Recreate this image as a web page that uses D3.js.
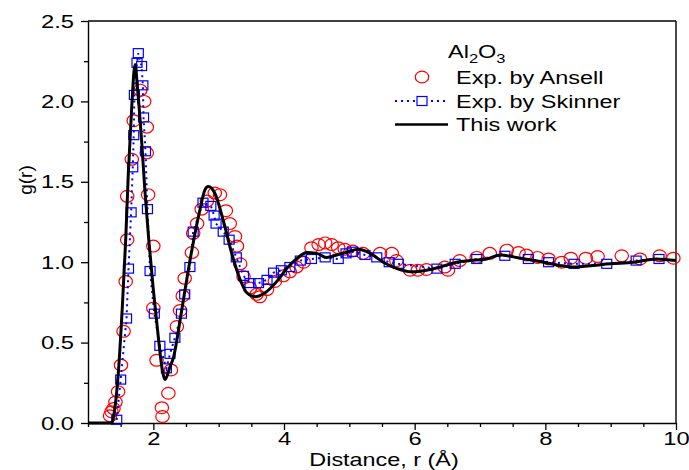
<!DOCTYPE html>
<html>
<head>
<meta charset="utf-8">
<script src="https://cdn.jsdelivr.net/npm/d3@7"></script>
<style>
  body { margin: 0; background: #fff; }
  svg text { font-family: "Liberation Sans", Arial, sans-serif; fill: #000; }
</style>
</head>
<body>
<div id="container"></div>
<script>
// "This work" curve
const workR = [1.0, 1.37, 1.40, 1.464, 1.525, 1.577, 1.617, 1.67, 1.72, 1.76, 1.82, 1.87, 1.93, 2.0, 2.08, 2.13, 2.18, 2.255, 2.31, 2.41, 2.51, 2.61, 2.71, 2.79, 2.84, 2.94, 3.07, 3.2, 3.33, 3.43, 3.56, 3.71, 3.91, 4.04, 4.19, 4.35, 4.5, 4.65, 4.81, 4.98, 5.14, 5.32, 5.52, 5.73, 5.95, 6.18, 6.39, 6.64, 6.85, 7.1, 7.31, 7.61, 7.97, 8.22, 8.43, 8.73, 8.99, 9.35, 9.7, 10.0];
const workG = [0, 0, 0.06, 0.31, 0.72, 1.14, 1.55, 1.97, 2.23, 2.07, 1.76, 1.45, 1.14, 0.83, 0.52, 0.35, 0.27, 0.35, 0.41, 0.64, 0.89, 1.12, 1.32, 1.45, 1.47, 1.43, 1.26, 1.055, 0.89, 0.81, 0.785, 0.81, 0.89, 0.96, 1.02, 1.06, 1.055, 1.03, 1.045, 1.065, 1.08, 1.055, 1.0, 0.96, 0.94, 0.95, 0.97, 1.0, 1.01, 1.02, 1.045, 1.025, 1.0, 0.98, 0.97, 0.98, 0.99, 1.0, 1.02, 1.01];

// Exp. by Ansell (circles)
const ansellR = [1.337, 1.36, 1.39, 1.42, 1.46, 1.505, 1.545, 1.577, 1.6, 1.6, 1.67, 1.7, 1.8, 1.86, 1.9, 1.9, 1.92, 2.0, 2.0, 2.05, 2.13, 2.14, 2.23, 2.27, 2.36, 2.41, 2.45, 2.48, 2.59, 2.61, 2.67, 2.74, 2.82, 2.94, 3.02, 3.11, 3.17, 3.25, 3.28, 3.33, 3.38, 3.48, 3.58, 3.63, 3.74, 3.86, 3.99, 4.09, 4.19, 4.3, 4.42, 4.53, 4.63, 4.73, 4.83, 4.93, 5.05, 5.21, 5.47, 5.65, 5.72, 5.93, 6.05, 6.18, 6.46, 6.51, 6.69, 6.95, 7.15, 7.41, 7.59, 7.71, 7.88, 8.05, 8.25, 8.39, 8.62, 8.8, 9.17, 9.45, 9.75, 9.96];
const ansellG = [0.045, 0.07, 0.09, 0.13, 0.195, 0.36, 0.57, 0.88, 1.14, 1.41, 1.64, 1.88, 2.07, 2.0, 1.84, 1.68, 1.42, 1.1, 0.715, 0.39, 0.095, 0.04, 0.185, 0.33, 0.6, 0.7, 0.79, 0.9, 1.06, 1.18, 1.24, 1.33, 1.38, 1.43, 1.42, 1.32, 1.24, 1.16, 1.1, 0.99, 0.91, 0.84, 0.8, 0.785, 0.83, 0.88, 0.915, 0.94, 0.97, 1.0, 1.09, 1.11, 1.12, 1.11, 1.09, 1.08, 1.07, 1.055, 1.055, 1.055, 1.01, 0.95, 0.95, 0.955, 0.97, 0.95, 1.01, 1.03, 1.055, 1.075, 1.06, 1.045, 1.03, 1.02, 1.0, 1.025, 1.025, 1.035, 1.04, 1.02, 1.04, 1.025];

// Exp. by Skinner (squares + dotted line)
const skinnerR = [1.44, 1.5, 1.59, 1.62, 1.66, 1.685, 1.7, 1.71, 1.75, 1.77, 1.82, 1.84, 1.85, 1.88, 1.91, 1.95, 2.015, 2.1, 2.2, 2.255, 2.33, 2.43, 2.48, 2.56, 2.61, 2.76, 2.88, 2.93, 2.96, 3.07, 3.16, 3.27, 3.38, 3.48, 3.61, 3.74, 3.84, 3.96, 4.09, 4.25, 4.42, 4.63, 4.83, 4.95, 5.05, 5.24, 5.42, 5.61, 5.75, 6.34, 6.62, 6.95, 7.38, 7.74, 8.05, 8.44, 8.94, 9.39, 9.74];
const skinnerG = [0.02, 0.27, 0.65, 0.96, 1.31, 1.59, 1.79, 2.04, 2.24, 2.3, 2.22, 2.1, 1.9, 1.69, 1.33, 0.945, 0.68, 0.48, 0.34, 0.43, 0.53, 0.68, 0.8, 0.97, 1.19, 1.37, 1.35, 1.29, 1.24, 1.19, 1.14, 1.03, 0.915, 0.87, 0.87, 0.89, 0.935, 0.95, 0.97, 1.01, 1.02, 1.03, 1.02, 1.055, 1.065, 1.045, 1.03, 1.0, 0.99, 0.96, 0.99, 1.02, 1.04, 1.02, 1.0, 0.99, 0.99, 1.01, 1.02];

const xMajor = [2, 4, 6, 8, 10];
const yMajor = [0, 0.5, 1.0, 1.5, 2.0, 2.5];

const width = 689, height = 470;
const margin = { top: 21, right: 13, bottom: 47, left: 88 };
const w = width - margin.left - margin.right;
const h = height - margin.top - margin.bottom;
const stretch = 1.25; // the original's lettering is drawn wide

const svg = d3.select("#container").append("svg")
  .attr("width", width).attr("height", height);

const g = svg.append("g")
  .attr("transform", "translate(" + margin.left + "," + margin.top + ")");

const x = d3.scaleLinear().domain([1, 10]).range([0, w]);
const y = d3.scaleLinear().domain([0, 2.5]).range([h, 0]);

const xMinor = d3.range(1, 10.01, 0.5).filter(v => !xMajor.includes(v));
const yMinor = d3.range(0.25, 2.5, 0.5);

// minor ticks
g.append("g").attr("transform", "translate(0," + h + ")")
  .call(d3.axisBottom(x).tickValues(xMinor).tickSize(4).tickFormat("").tickSizeOuter(0))
  .call(a => a.select(".domain").remove());
g.append("g")
  .call(d3.axisLeft(y).tickValues(yMinor).tickSize(4).tickFormat("").tickSizeOuter(0))
  .call(a => a.select(".domain").remove());

// major axes
const xAxis = g.append("g").attr("transform", "translate(0," + h + ")")
  .call(d3.axisBottom(x).tickValues(xMajor).tickSize(7).tickSizeOuter(0).tickFormat(d3.format("d")));
const yAxis = g.append("g")
  .call(d3.axisLeft(y).tickValues(yMajor).tickSize(7).tickSizeOuter(0).tickFormat(d3.format(".1f")));

[xAxis, yAxis].forEach(a => {
  a.selectAll("text").style("font-size", "19px")
    .attr("transform", "scale(" + stretch + ",1)");
  a.select(".domain").attr("stroke-width", 1.4);
});
xAxis.selectAll("text").attr("y", 5).attr("dy", "0.92em");
yAxis.selectAll("text").attr("x", -14 / stretch);
g.selectAll(".tick line").attr("stroke-width", 1.3);

// frame top / right
g.append("line").attr("x1", 0).attr("x2", w).attr("y1", 0).attr("y2", 0).attr("stroke", "#000").attr("stroke-width", 1.4);
g.append("line").attr("x1", w).attr("x2", w).attr("y1", 0).attr("y2", h).attr("stroke", "#000").attr("stroke-width", 1.4);

// axis titles
svg.append("text").attr("transform", "translate(384,466) scale(1.3,1)")
  .attr("text-anchor", "middle").style("font-size", "18px").text("Distance, r (Å)");
svg.append("text").attr("transform", "translate(32,180) rotate(-90)")
  .attr("text-anchor", "middle").style("font-size", "19px").text("g(r)");

const ansell = ansellR.map((r, i) => ({ r, g: ansellG[i] }));
const skinner = skinnerR.map((r, i) => ({ r, g: skinnerG[i] }));
const work = workR.map((r, i) => ({ r, g: workG[i] }));

// Ansell circles
g.selectAll(".ansell").data(ansell).enter().append("ellipse")
  .attr("class", "ansell")
  .attr("cx", d => x(d.r)).attr("cy", d => y(d.g))
  .attr("rx", 6.7).attr("ry", 5.9)
  .attr("fill", "none").attr("stroke", "#ff0000").attr("stroke-width", 1.2);

// Skinner dotted line + squares
g.append("path").datum(skinner)
  .attr("fill", "none").attr("stroke", "#0000ff").attr("stroke-width", 2)
  .attr("stroke-dasharray", "2,4")
  .attr("d", d3.line().x(d => x(d.r)).y(d => y(d.g)));
g.selectAll(".skinner").data(skinner).enter().append("rect")
  .attr("class", "skinner")
  .attr("x", d => x(d.r) - 5).attr("y", d => y(d.g) - 4.5)
  .attr("width", 10).attr("height", 9)
  .attr("fill", "none").attr("stroke", "#0000ff").attr("stroke-width", 1.2);

// This work
g.append("path").datum(work)
  .attr("fill", "none").attr("stroke", "#000").attr("stroke-width", 3)
  .attr("d", d3.line().curve(d3.curveMonotoneX).x(d => x(d.r)).y(d => y(d.g)));

// legend
const lg = svg.append("g");
const legText = (tx, ty, s) => lg.append("text")
  .attr("transform", "translate(" + tx + "," + ty + ") scale(1.27,1)")
  .style("font-size", "18.5px").text(s);

const t = lg.append("text").attr("transform", "translate(448,58) scale(1.27,1)").style("font-size", "18.5px");
t.append("tspan").text("Al");
t.append("tspan").attr("dy", 5).style("font-size", "13px").text("2");
t.append("tspan").attr("dy", -5).text("O");
t.append("tspan").attr("dy", 5).style("font-size", "13px").text("3");

lg.append("ellipse").attr("cx", 422).attr("cy", 77).attr("rx", 6.7).attr("ry", 5.9)
  .attr("fill", "none").attr("stroke", "#ff0000").attr("stroke-width", 1.2);
legText(456, 84, "Exp. by Ansell");

lg.append("line").attr("x1", 395).attr("x2", 448).attr("y1", 101).attr("y2", 101)
  .attr("stroke", "#0000ff").attr("stroke-width", 2).attr("stroke-dasharray", "2,4");
lg.append("rect").attr("x", 417).attr("y", 96.5).attr("width", 10).attr("height", 9)
  .attr("fill", "#fff").attr("stroke", "#0000ff").attr("stroke-width", 1.2);
legText(456, 108, "Exp. by Skinner");

lg.append("line").attr("x1", 395).attr("x2", 448).attr("y1", 124.5).attr("y2", 124.5)
  .attr("stroke", "#000").attr("stroke-width", 2.5);
legText(456, 131, "This work");
</script>
</body>
</html>
